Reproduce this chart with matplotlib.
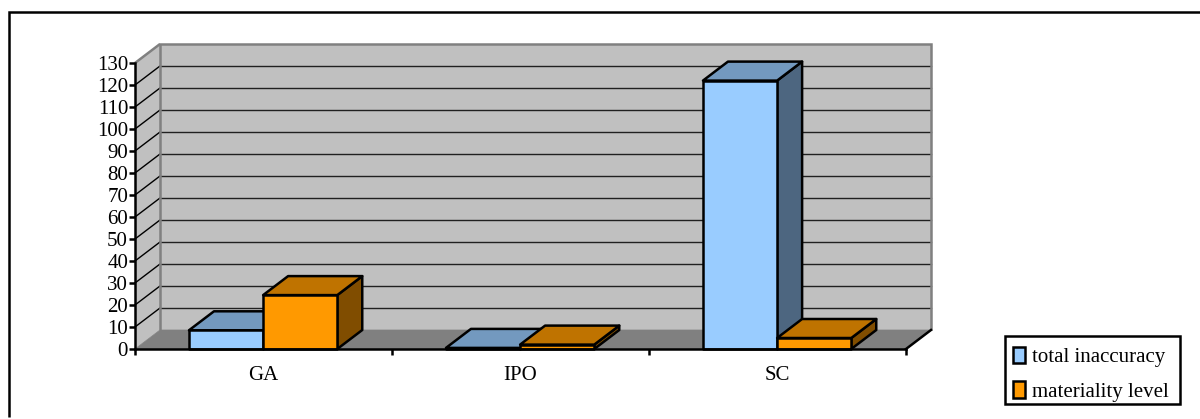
import matplotlib
matplotlib.use("Agg")
import matplotlib.pyplot as plt
from matplotlib.patches import Patch, Polygon, Rectangle
from matplotlib.transforms import Affine2D

categories = ["GA", "IPO", "SC"]
total_inaccuracy = [8.5, 0.5, 122]
materiality_level = [24.5, 2, 5]
series_names = ["total inaccuracy", "materiality level"]
y_ticks = list(range(0, 131, 10))

W, H = 1200, 419
DEPTH = (25, 19)          # oblique depth offset, in pixels
BAR_W = 0.2885            # bar width, as a fraction of a category slot
GAP = 0.21                # free space left of each group

FONT = "Liberation Serif"
FS = 15
LW = 1.8

# (front, top, side) face colours of each series
faces = [("#99CCFF", "#7399BF", "#4D6680"), ("#FF9900", "#BF7300", "#804D00")]

fig = plt.figure(figsize=(W / 100, H / 100), dpi=100)
fig.patch.set_facecolor("white")

# Outer frame: only the left and top edges are drawn
fig.add_artist(plt.Line2D([9 / W, 9 / W, 1], [2 / H, 1 - 12 / H, 1 - 12 / H],
                          color="black", lw=LW, transform=fig.transFigure,
                          solid_capstyle="butt", solid_joinstyle="miter"))

# The axes is the front plane of the oblique box
ax = fig.add_axes([135 / W, 1 - 349 / H, 771 / W, 286 / H])
ax.set_xlim(0, len(categories))
ax.set_ylim(0, 130)
ax.patch.set_visible(False)
for s in ("top", "right"):
    ax.spines[s].set_visible(False)
for s in ("left", "bottom"):
    ax.spines[s].set_linewidth(LW)
    ax.spines[s].set_zorder(20)

tr_back = ax.transData + Affine2D().translate(*DEPTH)


def oblique_face(points, closed=True, **kw):
    """Draw a face given (x, y, depth) corners, depth being 0 or 1."""
    verts = []
    for x, y, d in points:
        px = ax.transData.transform((x, y))
        verts.append((px[0] + d * DEPTH[0], px[1] + d * DEPTH[1]))
    kw.setdefault("clip_on", False)
    p = Polygon(verts, closed=closed, transform=None, **kw)
    ax.add_artist(p)
    return p


xmax = len(categories)
ymax = y_ticks[-1]

# Gridlines run along the back wall and down the side wall
for t in y_ticks[1:-1]:
    ax.plot([0, xmax], [t, t], color="#202020", lw=1.0, transform=tr_back,
            clip_on=False, zorder=2)
    a = ax.transData.transform((0, t))
    ax.plot([a[0], a[0] + DEPTH[0]], [a[1], a[1] + DEPTH[1]], color="black",
            lw=1.0, transform=None, clip_on=False, zorder=2)

# Walls and floor
oblique_face([(0, 0, 1), (xmax, 0, 1), (xmax, ymax, 1), (0, ymax, 1)],
             facecolor="#C0C0C0", edgecolor="none", zorder=1)
oblique_face([(0, 0, 0), (0, 0, 1), (0, ymax, 1), (0, ymax, 0)],
             facecolor="#C0C0C0", edgecolor="none", zorder=1)
oblique_face([(0, 0, 0), (xmax, 0, 0), (xmax, 0, 1), (0, 0, 1)],
             facecolor="#808080", edgecolor="#808080", lw=0.5, zorder=1)

# Wall outlines stay grey and sit above the gridline ends
oblique_face([(0, 0, 1), (0, ymax, 1), (xmax, ymax, 1), (xmax, 0, 1)],
             closed=False, fill=False, edgecolor="#808080", lw=LW, zorder=3)
oblique_face([(0, ymax, 0), (0, ymax, 1)],
             closed=False, fill=False, edgecolor="#808080", lw=LW, zorder=3)

# Front-right floor edge
a = ax.transData.transform((xmax, 0))
ax.plot([a[0], a[0] + DEPTH[0]], [a[1], a[1] + DEPTH[1]], color="black",
        lw=LW, transform=None, clip_on=False, zorder=3)

# Bars, back to front and left to right
z = 5
for i in range(len(categories)):
    for j, values in enumerate((total_inaccuracy, materiality_level)):
        v = values[i]
        x0 = i + GAP + j * BAR_W
        x1 = x0 + BAR_W
        front, top, side = faces[j]
        style = dict(edgecolor="black", lw=LW, joinstyle="round", zorder=z)
        oblique_face([(x1, 0, 0), (x1, 0, 1), (x1, v, 1), (x1, v, 0)],
                     facecolor=side, **style)
        oblique_face([(x0, v, 0), (x1, v, 0), (x1, v, 1), (x0, v, 1)],
                     facecolor=top, **style)
        oblique_face([(x0, 0, 0), (x1, 0, 0), (x1, v, 0), (x0, v, 0)],
                     facecolor=front, **style)
        z += 1

# Ticks sit between categories; labels are centred in each slot
ax.set_xticks(range(len(categories) + 1))
ax.set_xticklabels([])
ax.set_xticks([i + 0.5 for i in range(len(categories))], minor=True)
ax.set_xticklabels(categories, minor=True, fontfamily=FONT, fontsize=FS)
ax.tick_params(axis="x", which="minor", length=0, pad=12)
ax.tick_params(axis="x", which="major", length=4, width=LW, direction="out")
ax.set_yticks(y_ticks)
ax.set_yticklabels([str(t) for t in y_ticks], fontfamily=FONT, fontsize=FS)
ax.tick_params(axis="y", length=4, width=LW, pad=1)

# Legend box at the lower right; the frame is separate so the rows can sit low in it
fig.add_artist(Rectangle((1005 / W, 1 - 404 / H), 175 / W, 68 / H,
                         transform=fig.transFigure, facecolor="white",
                         edgecolor="black", lw=LW))
handles = [Patch(facecolor=faces[k][0], edgecolor="black", lw=LW, label=series_names[k])
           for k in range(2)]
leg = fig.legend(handles=handles, loc="upper left",
                 bbox_to_anchor=(1006 / W, 1 - 408 / H, 175 / W, 68 / H),
                 bbox_transform=fig.transFigure, mode="expand",
                 prop={"family": FONT, "size": FS}, frameon=False,
                 borderaxespad=0, handlelength=0.6, handleheight=0.85,
                 handletextpad=0.35, labelspacing=0.67, borderpad=0.32)

fig.savefig("out.png", dpi=100, facecolor="white")
